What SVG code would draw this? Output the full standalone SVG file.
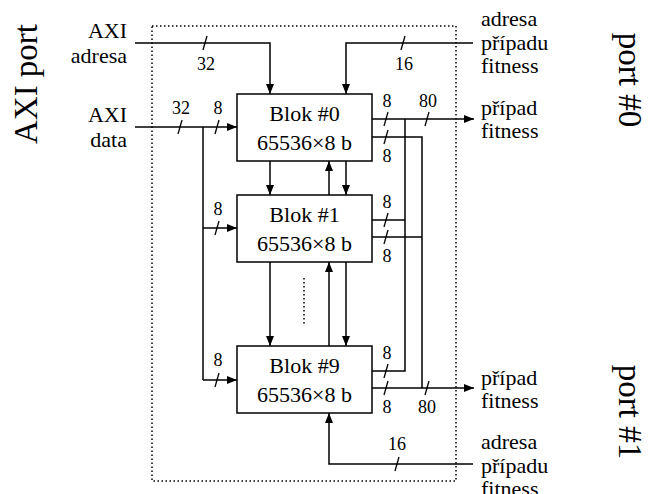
<svg xmlns="http://www.w3.org/2000/svg" width="648" height="494" viewBox="0 0 648 494">
<defs>
<marker id="ah" viewBox="0 0 10 8" refX="10" refY="4" markerWidth="10" markerHeight="8" markerUnits="userSpaceOnUse" orient="auto">
<path d="M0,0 L10,4 L0,8 z" fill="#000"/>
</marker>
<style>
text{font-family:"Liberation Serif","Times New Roman",serif;fill:#000}
.lbl{font-size:22px}
.num{font-size:18px;text-anchor:middle}
.blk{font-size:22px;text-anchor:middle}
.big{font-size:33px;text-anchor:middle}
.w{fill:none;stroke:#000;stroke-width:1.5}
.a{marker-end:url(#ah)}
.box{fill:#fff;stroke:#000;stroke-width:1.5}
.dot{fill:none;stroke:#000;stroke-width:1.5;stroke-dasharray:1.5 2.5}
.tk{stroke:#000;stroke-width:1.3}
</style>
</defs>
<rect width="648" height="494" fill="#fff"/>
<rect id="boundary" class="dot" x="152" y="26" width="304" height="455"/>
<text class="big" transform="translate(37,84) rotate(-90)">AXI port</text>
<text class="big" transform="translate(619,80) rotate(90)">port #0</text>
<text class="big" transform="translate(619,412) rotate(90)">port #1</text>
<g id="labels-left" class="lbl" text-anchor="end">
<text x="127" y="38">AXI</text>
<text x="127" y="63">adresa</text>
<text x="127" y="122">AXI</text>
<text x="127" y="147">data</text>
</g>
<g id="labels-right" class="lbl">
<text x="481" y="26">adresa</text>
<text x="481" y="50">případu</text>
<text x="481" y="73">fitness</text>
<text x="481" y="115">případ</text>
<text x="481" y="138">fitness</text>
<text x="481" y="385">případ</text>
<text x="481" y="408">fitness</text>
<text x="481" y="449">adresa</text>
<text x="481" y="473">případu</text>
<text x="481" y="496">fitness</text>
</g>
<g id="connectors">
<polyline class="w a" points="135,43 270,43 270,94"/>
<polyline class="w a" points="473,43 346,43 346,94"/>
<polyline class="w a" points="135,127 237,127"/>
<polyline class="w" points="203,127 203,380"/>
<polyline class="w a" points="203,228 237,228"/>
<polyline class="w a" points="203,380 237,380"/>
<line class="w a" x1="270" y1="161" x2="270" y2="195"/>
<line class="w a" x1="329" y1="195" x2="329" y2="161"/>
<line class="w a" x1="346" y1="161" x2="346" y2="195"/>
<line class="w a" x1="270" y1="262" x2="270" y2="346"/>
<line class="w a" x1="329" y1="346" x2="329" y2="262"/>
<line class="w a" x1="346" y1="262" x2="346" y2="346"/>
<line class="dot" x1="304" y1="278" x2="304" y2="324"/>
<polyline class="w a" points="473,464 329,464 329,413"/>
<polyline class="w a" points="372,119 474,119"/>
<polyline class="w" points="372,137 422,137 422,388"/>
<polyline class="w" points="405,119 405,371 372,371"/>
<line class="w" x1="372" y1="220" x2="405" y2="220"/>
<line class="w" x1="372" y1="237" x2="422" y2="237"/>
<polyline class="w a" points="372,388 474,388"/>
<g id="ticks">
<line class="tk" x1="203" y1="50" x2="207" y2="36"/>
<line class="tk" x1="401" y1="50" x2="405" y2="36"/>
<line class="tk" x1="178" y1="134" x2="182" y2="120"/>
<line class="tk" x1="215" y1="134" x2="219" y2="120"/>
<line class="tk" x1="215" y1="235" x2="219" y2="221"/>
<line class="tk" x1="215" y1="387" x2="219" y2="373"/>
<line class="tk" x1="384" y1="126" x2="388" y2="112"/>
<line class="tk" x1="384" y1="144" x2="388" y2="130"/>
<line class="tk" x1="425" y1="126" x2="429" y2="112"/>
<line class="tk" x1="384" y1="227" x2="388" y2="213"/>
<line class="tk" x1="384" y1="244" x2="388" y2="230"/>
<line class="tk" x1="384" y1="378" x2="388" y2="364"/>
<line class="tk" x1="384" y1="395" x2="388" y2="381"/>
<line class="tk" x1="425" y1="395" x2="429" y2="381"/>
<line class="tk" x1="395" y1="471" x2="399" y2="457"/>
</g>
</g>
<g id="numbers">
<text class="num" x="206" y="70">32</text>
<text class="num" x="404" y="70">16</text>
<text class="num" x="181" y="114">32</text>
<text class="num" x="218" y="114">8</text>
<text class="num" x="218" y="215">8</text>
<text class="num" x="218" y="366">8</text>
<text class="num" x="387" y="107">8</text>
<text class="num" x="387" y="162">8</text>
<text class="num" x="428" y="107">80</text>
<text class="num" x="387" y="208">8</text>
<text class="num" x="387" y="262">8</text>
<text class="num" x="387" y="359">8</text>
<text class="num" x="387" y="413">8</text>
<text class="num" x="427" y="413">80</text>
<text class="num" x="397" y="450">16</text>
</g>
<g id="blok0">
<rect class="box" x="237" y="94" width="135" height="67"/>
<text class="blk" x="304.5" y="121">Blok #0</text>
<text class="blk" x="304.5" y="150">65536×8 b</text>
</g>
<g id="blok1">
<rect class="box" x="237" y="195" width="135" height="67"/>
<text class="blk" x="304.5" y="222">Blok #1</text>
<text class="blk" x="304.5" y="251">65536×8 b</text>
</g>
<g id="blok9">
<rect class="box" x="237" y="346" width="135" height="67"/>
<text class="blk" x="304.5" y="373">Blok #9</text>
<text class="blk" x="304.5" y="402">65536×8 b</text>
</g>
</svg>
